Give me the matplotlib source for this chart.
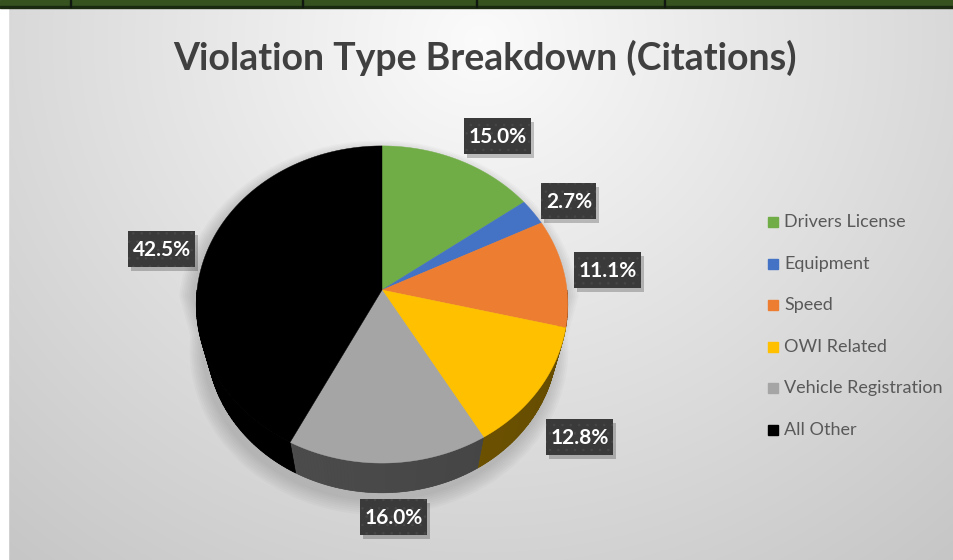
import numpy as np
import matplotlib
matplotlib.use("Agg")
import matplotlib.pyplot as plt
from matplotlib.patches import Polygon, Rectangle
from matplotlib.colors import to_rgb

categories = ["Drivers License", "Equipment", "Speed", "OWI Related",
              "Vehicle Registration", "All Other"]
shares = [15.0, 2.7, 11.1, 12.8, 16.0, 42.5]
colors = ["#70ad47", "#4472c4", "#ed7d31", "#ffc000", "#a5a5a5", "#000000"]
label_pos = [(498, 136), (569, 201), (608, 270), (580, 437), (394, 517), (162, 249)]
title = "Violation Type Breakdown (Citations)"

# 3d pie geometry (pixel units)
cx, cy, S = 382, 290, 185
cb, sb = 0.85, 0.527
focal = 5.77
thick = 0.4

plt.rcParams["hatch.linewidth"] = 0.6


def project(u, v, t=0.0):
    Y = v * cb + t * sb
    Z = v * sb - t * cb
    fac = 1.0 / (1.0 + Z / focal)
    return cx + S * u * fac, cy - S * Y * fac


def rim(a0, a1, t=0.0, n=80):
    a = np.radians(np.linspace(a0, a1, n))
    return np.column_stack(project(np.cos(a), np.sin(a), t))


W, H = 954, 560
fig = plt.figure(figsize=(W / 100, H / 100), dpi=100)
ax = fig.add_axes([0, 0, 1, 1])
ax.set_xlim(0, W)
ax.set_ylim(H, 0)
ax.axis("off")

# background
xx, yy = np.meshgrid(np.arange(W), np.arange(H))
d = np.sqrt(((xx - 480) / 560) ** 2 + ((yy - 40) / 520) ** 2)
g = np.clip(0.985 - 0.16 * d, 0, 1)
ax.imshow(np.dstack([g, g, g]), extent=(0, W, H, 0), zorder=0, aspect="auto")
ax.add_patch(Rectangle((0, 0), 8, H, color="white", zorder=1))
ax.add_patch(Rectangle((0, 0), W, 7, color="#36521f", zorder=1))
ax.add_patch(Rectangle((0, 6), W, 1.5, color="#1a2a10", zorder=1))
for x in [70, 302, 476, 664]:
    ax.add_patch(Rectangle((x, 0), 1.5, 7, color="#111811", zorder=1))

ax.text(485, 58, title, ha="center", va="center", fontsize=27,
        fontweight="bold", family="Lato", color="#404040", zorder=5)

# soft shadow under the pie
outline = np.vstack([rim(0, 180), rim(180, 360, -thick)])
for k in range(8):
    grow = 1 + 0.01 * (k + 1)
    pts = np.column_stack([cx + (outline[:, 0] - cx) * grow - 3,
                           cy + (outline[:, 1] - cy) * grow + 6])
    ax.add_patch(Polygon(pts, closed=True, fc="black", ec="none",
                         alpha=0.018, zorder=2))

total = sum(shares)
bounds = 90 - 360 * np.concatenate([[0], np.cumsum(shares)]) / total

# side walls (front half only)
for i, c in enumerate(colors):
    a0, a1 = bounds[i + 1], bounds[i]
    lo, hi = max(a0, -180), min(a1, 0)
    lo2, hi2 = max(a0, -540), min(a1, -360)
    base = np.array(to_rgb(c))
    for lo_, hi_ in [(lo, hi), (lo2, hi2)]:
        if hi_ <= lo_:
            continue
        # solid underlay so the shaded strips leave no seams
        wall = np.vstack([rim(lo_, hi_, 0, 60), rim(hi_, lo_, -thick, 60)])
        ax.add_patch(Polygon(wall, closed=True, fc=base * 0.44, ec="none", zorder=3))
        steps = np.linspace(lo_, hi_, max(int(hi_ - lo_), 2) + 1)
        for s0, s1 in zip(steps[:-1], steps[1:]):
            ang = ((s0 + s1) / 2) % 360
            shade = 0.5 - 0.12 * (ang - 180) / 180
            top = rim(s0, s1, 0, 3)
            bot = rim(s1, s0, -thick, 3)
            ax.add_patch(Polygon(np.vstack([top, bot]), closed=True,
                                 fc=base * shade, ec=base * shade, lw=0.4, zorder=3))

# top face
for i, c in enumerate(colors):
    pts = np.vstack([[project(0, 0)], rim(bounds[i + 1], bounds[i])])
    ax.add_patch(Polygon(pts, closed=True, fc=c, ec=c, lw=0.3, zorder=4))

# value labels in dark boxes with a drop shadow
for (x, y), v in zip(label_pos, shares):
    txt = f"{v:.1f}%"
    bw, bh = 12 * len(txt) + 7, 36
    ax.add_patch(Rectangle((x - bw / 2 + 3, y - bh / 2 + 4), bw, bh,
                           fc="black", ec="none", alpha=0.22, zorder=5))
    ax.add_patch(Rectangle((x - bw / 2, y - bh / 2), bw, bh, fc="#3a3a3a",
                           ec="#474747", lw=0, hatch="..", zorder=6))
    ax.text(x, y + 1, txt, ha="center", va="center", fontsize=15,
            fontweight="bold", family="Lato", color="white", zorder=7)

# legend
for i, (name, c) in enumerate(zip(categories, colors)):
    y = 222 + i * 41.6
    ax.add_patch(Rectangle((768, y - 5), 10, 10, color=c, zorder=5))
    ax.text(784, y, name, ha="left", va="center", fontsize=13,
            family="Lato", color="#595959", zorder=5)

fig.savefig("out.png", dpi=100)
